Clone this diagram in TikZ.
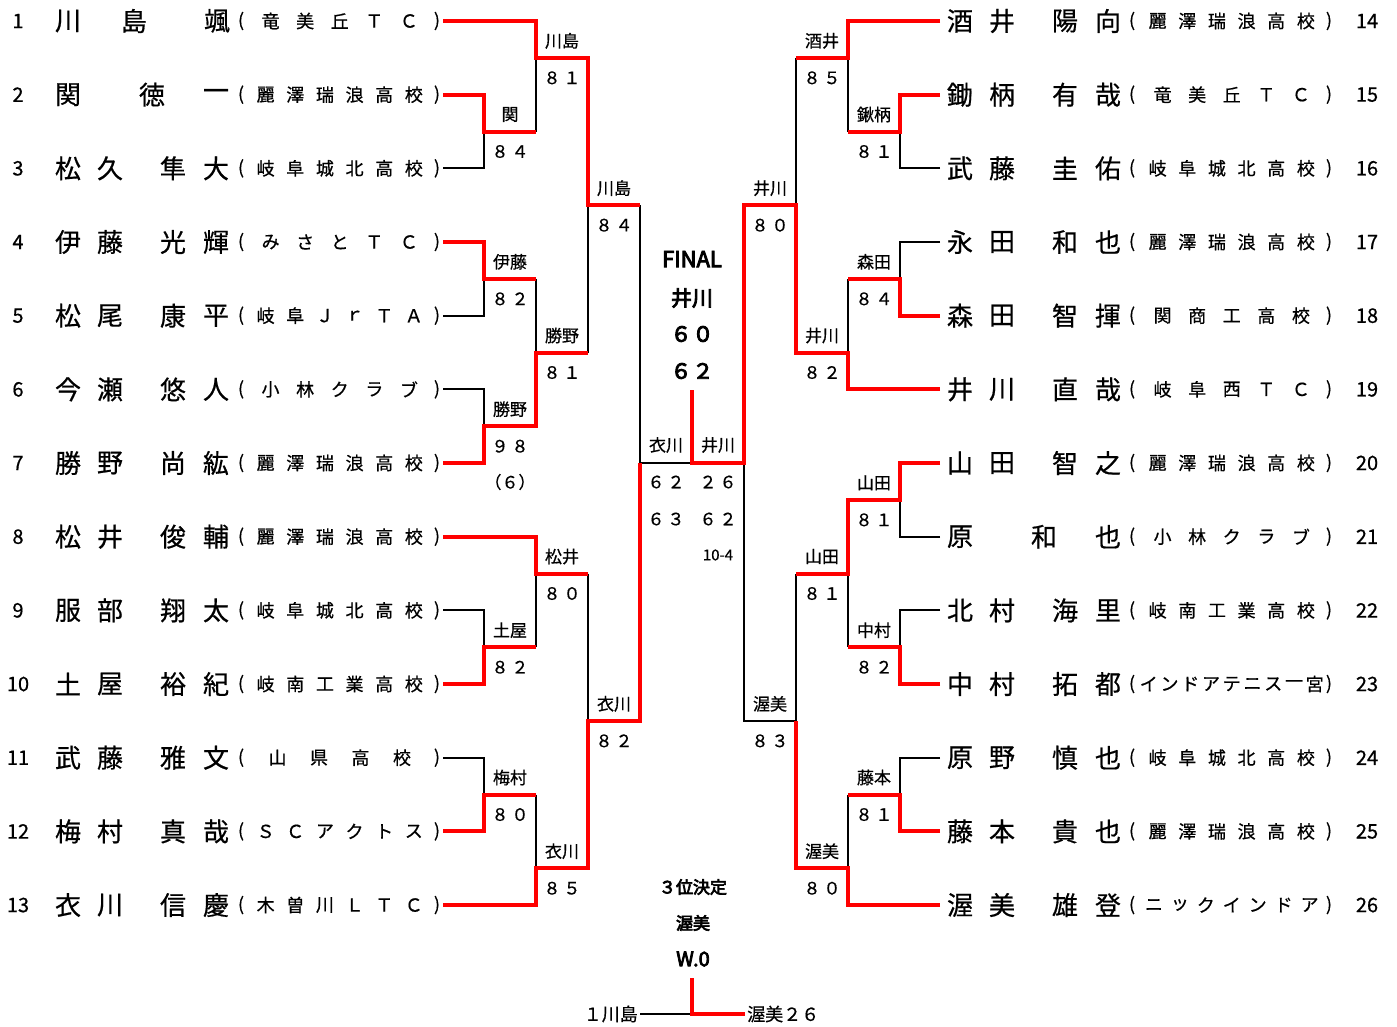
\documentclass[tikz,border=0pt]{standalone}
\usepackage{fontspec}
\setmainfont{Noto Sans CJK JP}[FakeBold=0.6]
\newfontfamily\jpb{Noto Sans CJK JP}[FakeBold=4]
\definecolor{wr}{RGB}{255,0,0}
\tikzset{
  blk/.style={line width=1.8pt,black,line join=miter},
  win/.style={line width=4pt,wr,line join=miter},
  nm/.style={font=\fontsize{26}{26}\selectfont,inner sep=0pt},
  sch/.style={font=\fontsize{18}{18}\selectfont,inner sep=0pt},
  num/.style={font=\fontsize{20}{20}\selectfont,inner sep=0pt},
  lbl/.style={font=\fontsize{17}{17}\selectfont,inner sep=0pt},
  finb/.style={font=\jpb\fontsize{21}{21}\selectfont,inner sep=0pt},
  thrd/.style={font=\jpb\fontsize{17}{17}\selectfont,inner sep=0pt},
}
\newcommand\school[4]{%
  \foreach \cc [count=\k] in {#3} {\xdef\nn{\k}}%
  \pgfmathsetmacro\stp{207.5/(\nn+1)}%
  \foreach \cc [count=\k] in {#3} \node[sch,name=#4-\k] at ({#1+\k*\stp},#2) {\cc};%
}
\newcommand\PL[4]{%
  \pgfmathsetmacro\yy{21+(#1-1)*73.67}%
  \node[num,name=nL#1] at (18,\yy) {#2};%
  \foreach \x/\cc [count=\k] in {#3} \node[nm,name=aL#1-\k] at (\x,\yy) {\cc};%
  \node[sch,name=oL#1] at (241,\yy) {(};%
  \node[sch,name=cL#1] at (437,\yy) {)};%
  \school{236}{\yy}{#4}{sL#1}%
}
\newcommand\PR[4]{%
  \pgfmathsetmacro\yy{21+(#1-1)*73.67}%
  \node[num,name=nR#1] at (1367,\yy) {#2};%
  \foreach \x/\cc [count=\k] in {#3} \node[nm,name=aR#1-\k] at ({\x+892},\yy) {\cc};%
  \node[sch,name=oR#1] at (1132,\yy) {(};%
  \node[sch,name=cR#1] at (1329,\yy) {)};%
  \school{1128}{\yy}{#4}{sR#1}%
}
\newcommand\ML[6]{%
  \pgfmathsetmacro\my{21+(#3-0.5)*73.67}%
  \node[lbl,name=#1a] at (#2,{\my-17}) {#4};%
  \node[lbl,name=#1b] at (#2,{\my+20}) {#5\kern3pt#6};%
}
\begin{document}
\begin{tikzpicture}[x=1pt,y=-1pt]
\useasboundingbox (0,0) rectangle (1397,1026);
\foreach \i in {1,...,13} \coordinate (r\i) at (0,{21+(\i-1)*73.67});
\foreach \i in {1,...,12} \coordinate (m\i) at (0,{21+(\i-0.5)*73.67});
\foreach \n/\x in {L0/443,L1/484,L2/536,L3/588,L4/640,C/692,R4/744,R3/796,R2/848,R1/900,R0/940} \coordinate (\n) at (\x,0);
\coordinate (ftop) at (692,390);

% ---- black lines, left
\draw[blk] (L0|-r3) -| (L1|-m2);
\draw[blk] (L2|-m1) -- (L2|-m2);
\draw[blk] (L0|-r5) -| (L1|-m4);
\draw[blk] (L2|-m4) -- (L2|-m5);
\draw[blk] (L0|-r6) -| (L1|-m6);
\draw[blk] (L3|-m3) -- (L3|-m5);
\draw[blk] (L4|-m3) -- (L4|-r7) -- (C|-r7);
\draw[blk] (L0|-r9) -| (L1|-m9);
\draw[blk] (L2|-m8) -- (L2|-m9);
\draw[blk] (L0|-r11) -| (L1|-m11);
\draw[blk] (L2|-m11) -- (L2|-m12);
\draw[blk] (L3|-m8) -- (L3|-m10);
% ---- black lines, right
\draw[blk] (R0|-r3) -| (R1|-m2);
\draw[blk] (R2|-m1) -- (R2|-m2);
\draw[blk] (R0|-r4) -| (R1|-m4);
\draw[blk] (R2|-m4) -- (R2|-m5);
\draw[blk] (R3|-m1) -- (R3|-m3);
\draw[blk] (R0|-r8) -| (R1|-m7);
\draw[blk] (R0|-r9) -| (R1|-m9);
\draw[blk] (R2|-m8) -- (R2|-m9);
\draw[blk] (R3|-m8) -- (R3|-m10) -- (R4|-m10) -- (R4|-r7);
\draw[blk] (R0|-r11) -| (R1|-m11);
\draw[blk] (R2|-m11) -- (R2|-m12);

% ---- red winner paths, left
\draw[win] (L0|-r1) -| (L2|-m1) -| (L3|-m3) -- (L4|-m3);
\draw[win] (L0|-r2) -| (L1|-m2) -- (L2|-m2);
\draw[win] (L0|-r4) -| (L1|-m4) -- (L2|-m4);
\draw[win] (L0|-r7) -| (L1|-m6) -| (L2|-m5) -- (L3|-m5);
\draw[win] (L0|-r8) -| (L2|-m8) -- (L3|-m8);
\draw[win] (L0|-r10) -| (L1|-m9) -- (L2|-m9);
\draw[win] (L0|-r12) -| (L1|-m11) -- (L2|-m11);
\draw[win] (L0|-r13) -| (L2|-m12) -| (L3|-m10) -| (L4|-r7);
% ---- red winner paths, right
\draw[win] (R0|-r1) -| (R2|-m1) -- (R3|-m1);
\draw[win] (R0|-r2) -| (R1|-m2) -- (R2|-m2);
\draw[win] (R0|-r5) -| (R1|-m4) -- (R2|-m4);
\draw[win] (R0|-r6) -| (R2|-m5) -| (R3|-m3) -| (R4|-r7) -| (ftop);
\draw[win] (R0|-r7) -| (R1|-m7) -| (R2|-m8) -- (R3|-m8);
\draw[win] (R0|-r10) -| (R1|-m9) -- (R2|-m9);
\draw[win] (R0|-r12) -| (R1|-m11) -- (R2|-m11);
\draw[win] (R0|-r13) -| (R2|-m12) -| (R3|-m10);

% ---- players, left
\PL{1}{1}{68/川,134/島,217/颯}{竜,美,丘,Ｔ,Ｃ}
\PL{2}{2}{68/関,152/徳,216/一}{麗,澤,瑞,浪,高,校}
\PL{3}{3}{68/松,110/久,173/隼,216/大}{岐,阜,城,北,高,校}
\PL{4}{4}{68/伊,110/藤,173/光,216/輝}{み,さ,と,Ｔ,Ｃ}
\PL{5}{5}{68/松,110/尾,173/康,216/平}{岐,阜,Ｊ,ｒ,Ｔ,Ａ}
\PL{6}{6}{68/今,110/瀬,173/悠,216/人}{小,林,ク,ラ,ブ}
\PL{7}{7}{68/勝,110/野,173/尚,216/紘}{麗,澤,瑞,浪,高,校}
\PL{8}{8}{68/松,110/井,173/俊,216/輔}{麗,澤,瑞,浪,高,校}
\PL{9}{9}{68/服,110/部,173/翔,216/太}{岐,阜,城,北,高,校}
\PL{10}{10}{68/土,110/屋,173/裕,216/紀}{岐,南,工,業,高,校}
\PL{11}{11}{68/武,110/藤,173/雅,216/文}{山,県,高,校}
\PL{12}{12}{68/梅,110/村,173/真,216/哉}{Ｓ,Ｃ,ア,ク,ト,ス}
\PL{13}{13}{68/衣,110/川,173/信,216/慶}{木,曽,川,Ｌ,Ｔ,Ｃ}
% ---- players, right
\PR{1}{14}{68/酒,110/井,173/陽,216/向}{麗,澤,瑞,浪,高,校}
\PR{2}{15}{68/鋤,110/柄,173/有,216/哉}{竜,美,丘,Ｔ,Ｃ}
\PR{3}{16}{68/武,110/藤,173/圭,216/佑}{岐,阜,城,北,高,校}
\PR{4}{17}{68/永,110/田,173/和,216/也}{麗,澤,瑞,浪,高,校}
\PR{5}{18}{68/森,110/田,173/智,216/揮}{関,商,工,高,校}
\PR{6}{19}{68/井,110/川,173/直,216/哉}{岐,阜,西,Ｔ,Ｃ}
\PR{7}{20}{68/山,110/田,173/智,216/之}{麗,澤,瑞,浪,高,校}
\PR{8}{21}{68/原,152/和,216/也}{小,林,ク,ラ,ブ}
\PR{9}{22}{68/北,110/村,173/海,216/里}{岐,南,工,業,高,校}
\PR{10}{23}{68/中,110/村,173/拓,216/都}{イ,ン,ド,ア,テ,ニ,ス,一,宮}
\PR{11}{24}{68/原,110/野,173/慎,216/也}{岐,阜,城,北,高,校}
\PR{12}{25}{68/藤,110/本,173/貴,216/也}{麗,澤,瑞,浪,高,校}
\PR{13}{26}{68/渥,110/美,173/雄,216/登}{ニ,ッ,ク,イ,ン,ド,ア}

% ---- match labels, left
\ML{mLa}{510}{2}{関}{８}{４}
\ML{mLb}{562}{1}{川島}{８}{１}
\ML{mLc}{510}{4}{伊藤}{８}{２}
\ML{mLd}{510}{6}{勝野}{９}{８}
\node[lbl,name=mLdx] at (510,482) {（６）};
\ML{mLe}{562}{5}{勝野}{８}{１}
\ML{mLf}{614}{3}{川島}{８}{４}
\ML{mLg}{562}{8}{松井}{８}{０}
\ML{mLh}{510}{9}{土屋}{８}{２}
\ML{mLi}{614}{10}{衣川}{８}{２}
\ML{mLj}{510}{11}{梅村}{８}{０}
\ML{mLk}{562}{12}{衣川}{８}{５}
% ---- match labels, right
\ML{mRa}{822}{1}{酒井}{８}{５}
\ML{mRb}{874}{2}{鍬柄}{８}{１}
\ML{mRc}{874}{4}{森田}{８}{４}
\ML{mRd}{822}{5}{井川}{８}{２}
\ML{mRe}{770}{3}{井川}{８}{０}
\ML{mRf}{874}{7}{山田}{８}{１}
\ML{mRg}{822}{8}{山田}{８}{１}
\ML{mRh}{874}{9}{中村}{８}{２}
\ML{mRi}{770}{10}{渥美}{８}{３}
\ML{mRj}{874}{11}{藤本}{８}{１}
\ML{mRk}{822}{12}{渥美}{８}{０}

% ---- final
\node[finb,font=\jpb\fontsize{22}{22}\selectfont,name=fT] at (692,259) {FINAL};
\node[finb,name=fW] at (692,298) {井川};
\node[finb,name=fS1] at (692,334) {６\kern1pt０};
\node[finb,name=fS2] at (692,371) {６\kern1pt２};
\node[lbl,name=sfL] at (666,445) {衣川};
\node[lbl,name=sfR] at (718,445) {井川};
\node[lbl,name=sfL1] at (666,482) {６\kern3pt２};
\node[lbl,name=sfR1] at (718,482) {２\kern3pt６};
\node[lbl,name=sfL2] at (666,519) {６\kern3pt３};
\node[lbl,name=sfR2] at (718,519) {６\kern3pt２};
\node[lbl,font=\fontsize{15}{15}\selectfont,name=sfR3] at (718,555) {10-4};

% ---- third place
\node[thrd,name=tA] at (693,887) {３位決定};
\node[thrd,name=tB] at (693,923) {渥美};
\node[thrd,font=\jpb\fontsize{20}{20}\selectfont,name=tC] at (693,959) {W.0};
\coordinate (t0) at (692,978);
\coordinate (t2) at (692,1014);
\node[lbl,font=\fontsize{18}{18}\selectfont,inner sep=2pt,anchor=east,name=tl] at (640,1014) {１川島};
\node[lbl,font=\fontsize{18}{18}\selectfont,inner sep=2pt,anchor=west,name=tr] at (745,1014) {渥美２６};
\draw[blk] (tl.east) -- (t2);
\draw[win] (t0) |- (tr.west);
\end{tikzpicture}
\end{document}
